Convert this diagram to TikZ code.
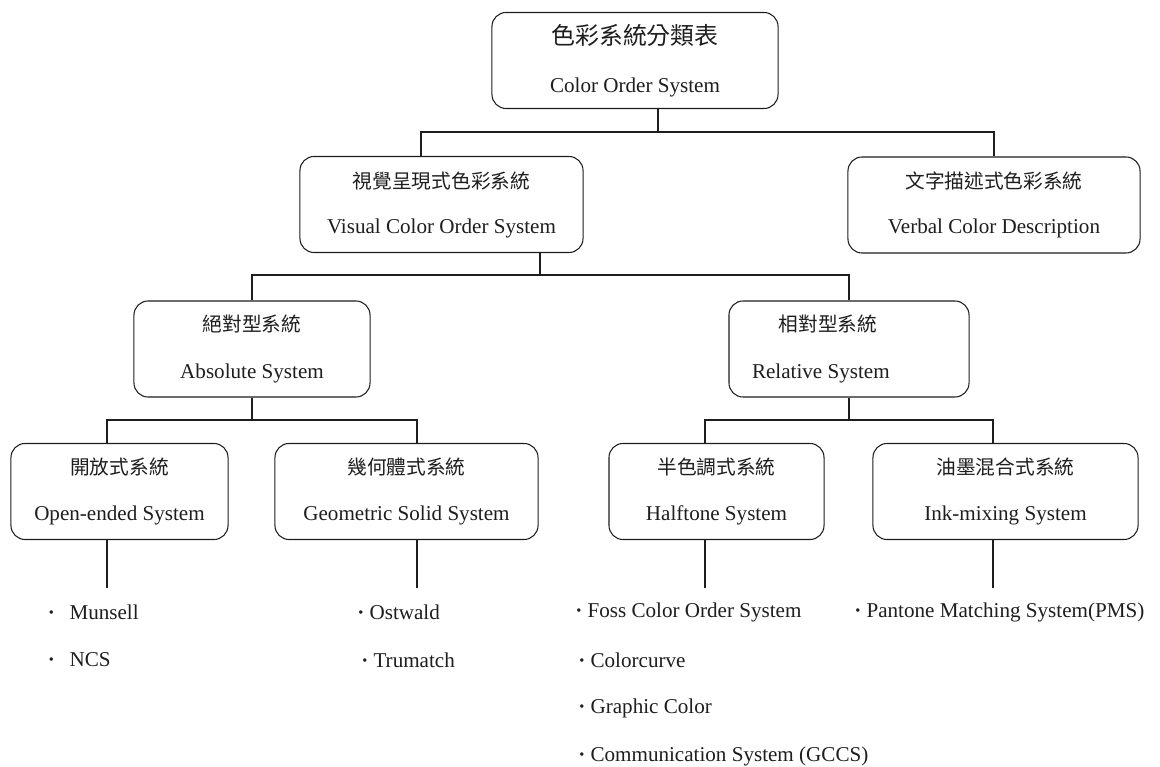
\documentclass[tikz,border=0pt]{standalone}
\usepackage{fontspec}
\setmainfont{Liberation Serif}
\newfontfamily\cjk{Noto Sans CJK TC}
\usepackage{xcolor}
\usepackage{tikz}
\usetikzlibrary{positioning,calc}
\definecolor{ink}{HTML}{1E1E1E}
\definecolor{paper}{HTML}{FFFFFF}
\newcommand{\zh}[1]{{\cjk\fontsize{14}{18}\selectfont #1}}

\begin{document}
\begin{tikzpicture}[x=0.025cm,y=-0.025cm,every node/.style={font=\fontsize{15}{18}\selectfont,text=ink},box/.style={draw=ink,line width=0.75pt,rounded corners=10pt,align=center,minimum height=2.4cm,inner sep=0pt},item/.style={anchor=west,inner sep=0pt},wire/.style={draw=ink,line width=0.75pt}]
\path[fill=paper,use as bounding box] (0,0) rectangle (1160,767);
% boxes, row by row
\node[box,minimum width=7.15cm] (top) at (635,60.5) {{\cjk\fontsize{17}{18}\selectfont 色彩系統分類表}\\[16pt]Color Order System};
\node[box,minimum width=7.075cm] (vis) at (441.5,204.5) {\zh{視覺呈現式色彩系統}\\[14pt]Visual Color Order System};
\node[box,minimum width=7.3cm] (verb) at (994,205) {\zh{文字描述式色彩系統}\\[14pt]Verbal Color Description};
\node[box,minimum width=5.9cm] (abs) at (252,349) {\zh{絕對型系統}\\[15pt]Absolute System};
\node[box,minimum width=6cm] (rel) at (849,349) {\hspace*{-30pt}\zh{相對型系統}\\[15pt]\hspace*{-40pt}Relative System};
\node[box,minimum width=5.425cm] (open) at (119.5,491.5) {\zh{開放式系統}\\[15pt]Open-ended System};
\node[box,minimum width=6.575cm] (geo) at (406.5,491.5) {\zh{幾何體式系統}\\[15pt]Geometric Solid System};
\node[box,minimum width=5.375cm] (half) at (716.5,491.5) {\zh{半色調式系統}\\[15pt]Halftone System};
\node[box,minimum width=6.625cm] (mix) at (1005.5,491.5) {\zh{油墨混合式系統}\\[15pt]Ink-mixing System};
% bar junctions and free ends
\coordinate (b1l) at (421,132);\coordinate (b1m) at (658,132);\coordinate (b1r) at (994,132);
\coordinate (b2m) at (540,275);
\coordinate (b3a) at (107,420);\coordinate (b3b) at (252,420);\coordinate (b3c) at (417,420);
\coordinate (b3d) at (705,420);\coordinate (b3e) at (849,420);\coordinate (b3f) at (993,420);
\coordinate (e1) at (107,588);\coordinate (e2) at (417,588);\coordinate (e3) at (705,588);\coordinate (e4) at (993,588);
\draw[wire] (top.south -| b1m) -- (b1m);\draw[wire] (vis.north -| b1l) -- (b1l) -- (b1r) -- (verb.north -| b1r);
\draw[wire] (vis.south -| b2m) -- (b2m);\draw[wire] (abs.north) |- (b2m) -| (rel.north);
\draw[wire] (abs.south) -- (b3b);\draw[wire] (open.north -| b3a) -- (b3a) -- (b3c) -- (geo.north -| b3c);
\draw[wire] (rel.south) -- (b3e);\draw[wire] (half.north -| b3d) -- (b3d) -- (b3f) -- (mix.north -| b3f);
\draw[wire] (open.south -| e1) -- (e1);\draw[wire] (geo.south -| e2) -- (e2);\draw[wire] (half.south -| e3) -- (e3);\draw[wire] (mix.south -| e4) -- (e4);
% listed systems
\node[item] (munsell) at (47.5,612) {\textbf{·}\hspace{10.5pt}Munsell};
\node[item] (ncs) at (47.5,660) {\textbf{·}\hspace{10.5pt}NCS};
\node[item] (ostwald) at (357,612) {\textbf{·} Ostwald};
\node[item] (trumatch) at (361,660) {\textbf{·} Trumatch};
\node[item] (foss) at (575,612) {\textbf{·} Foss Color Order System};
\node[item] (curve) at (578,660) {\textbf{·} Colorcurve};
\node[item] (graphic) at (578,708) {\textbf{·} Graphic Color};
\node[item] (gccs) at (578,756) {\textbf{·} Communication System (GCCS)};
\node[item] (pantone) at (854,612) {\textbf{·} Pantone Matching System(PMS)};
\end{tikzpicture}
\end{document}
